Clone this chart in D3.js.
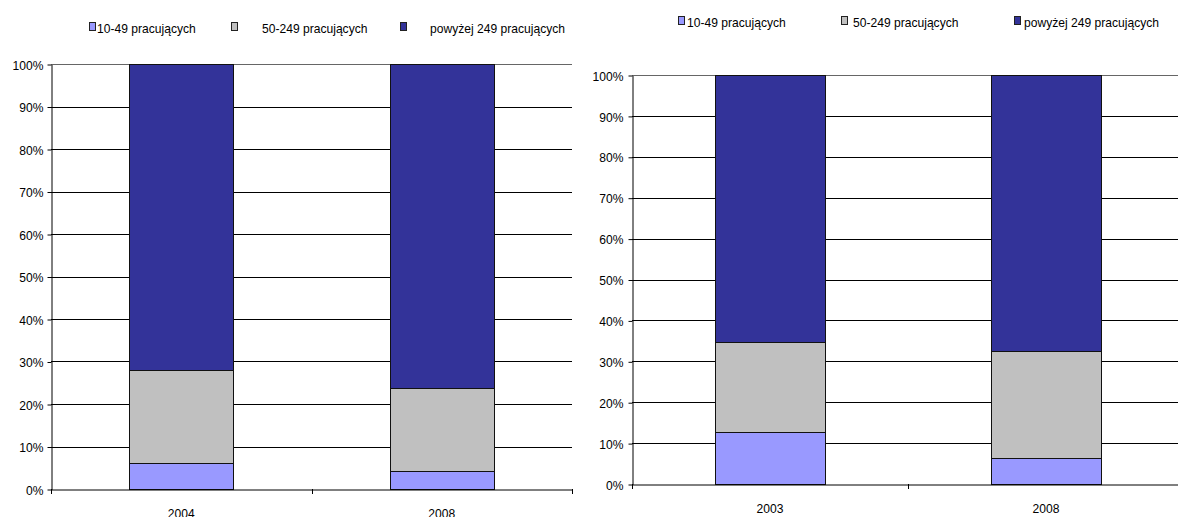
<!DOCTYPE html>
<html><head><meta charset="utf-8">
<script src="https://cdn.jsdelivr.net/npm/d3@7"></script>
<style>body{margin:0;background:#fff}svg{display:block}text{font-family:"Liberation Sans",Arial,sans-serif;fill:#000}</style>
</head><body>
<svg id="c" width="1178" height="517"></svg>
<script>
const seriesNames = ["10-49 pracujących", "50-249 pracujących", "powyżej 249 pracujących"];
const seriesColors = ["#9999FF", "#C0C0C0", "#333399"];
const yTicks = [0, 0.1, 0.2, 0.3, 0.4, 0.5, 0.6, 0.7, 0.8, 0.9, 1.0];
const leftYears = ["2004", "2008"];
const leftSmall = [0.061, 0.043];
const leftMedium = [0.219, 0.195];
const leftLarge = [0.720, 0.762];
const rightYears = ["2003", "2008"];
const rightSmall = [0.127, 0.064];
const rightMedium = [0.220, 0.262];
const rightLarge = [0.653, 0.674];

const FS = 13, SX = 0.93;
const svg = d3.select("#c");

function chart(cfg, years, vals) {
  const g = svg.append("g");
  const x = d3.scaleBand().domain(years).range([cfg.x0, cfg.x1]).paddingInner(0).paddingOuter(0);
  const y = d3.scaleLinear().domain([0, 1]).range([cfg.y0, cfg.y1]);
  g.selectAll("line.grid").data(yTicks.slice(1)).join("line")
    .attr("x1", cfg.x0).attr("x2", cfg.x1)
    .attr("y1", d => Math.round(y(d)) + 0.5).attr("y2", d => Math.round(y(d)) + 0.5)
    .attr("stroke", d => d === 1 ? "#666" : "#000").attr("stroke-width", 1);
  const rows = years.map((yr, i) => ({year: yr, s0: vals[0][i], s1: vals[1][i], s2: vals[2][i]}));
  const stack = d3.stack().keys(["s0", "s1", "s2"])(rows);
  const bw = x.bandwidth() * 0.4;
  stack.forEach((layer, li) => {
    g.selectAll(null).data(layer).join("rect")
      .attr("x", d => Math.round(x(d.data.year) + x.bandwidth() / 2 - bw / 2) + 0.5)
      .attr("width", Math.round(bw))
      .attr("y", d => Math.round(y(d[1])) + 0.5)
      .attr("height", d => Math.round(y(d[0])) - Math.round(y(d[1])))
      .attr("fill", seriesColors[li])
      .attr("stroke", "#111").attr("stroke-width", 1);
  });
  const ya = d3.axisLeft(y).tickValues(yTicks).tickFormat(d3.format(".0%")).tickSize(4).tickSizeOuter(0);
  const yg = g.append("g").attr("transform", `translate(${cfg.x0 + 0.5},0.5)`).call(ya);
  yg.select(".domain").attr("stroke", "#000");
  yg.selectAll(".tick line").attr("stroke", "#000");
  yg.selectAll("text").attr("font-size", FS).attr("x", cfg.yLabelX / SX).attr("dy", "0.36em")
    .attr("transform", `scale(${SX},1)`)
    .style("font-family", '"Liberation Sans", Arial, sans-serif');
  const xa = d3.axisBottom(x).tickSize(0).tickSizeOuter(0);
  const xg = g.append("g").attr("transform", `translate(0,${cfg.y0 + 0.5})`).call(xa);
  xg.select(".domain").attr("stroke", "#000");
  xg.selectAll("text").attr("font-size", FS).attr("y", cfg.xLabelDy)
    .attr("transform", `scale(${SX},1)`)
    .style("font-family", '"Liberation Sans", Arial, sans-serif');
  const bounds = years.map(d => x(d)).concat([cfg.x1]);
  g.selectAll(null).data(bounds).join("line")
    .attr("x1", d => Math.round(d) + 0.5).attr("x2", d => Math.round(d) + 0.5)
    .attr("y1", cfg.y0).attr("y2", cfg.y0 + 5).attr("stroke", "#000");
  seriesNames.forEach((n, i) => {
    const lx = cfg.legend[i];
    g.append("rect").attr("x", lx[0] + 0.5).attr("y", cfg.legendY - 5.5).attr("width", 6).attr("height", 8)
      .attr("fill", seriesColors[i]).attr("stroke", "#222");
    g.append("text").attr("transform", `translate(${lx[1]},${cfg.legendY}) scale(${SX},1)`)
      .attr("dy", "0.36em").attr("font-size", FS).text(n);
  });
}

chart({x0: 51, x1: 572, y0: 489, y1: 64, xLabelDy: 19, yLabelX: -8, legendY: 28,
       legend: [[89, 97], [231, 262], [400, 430]]},
      leftYears, [leftSmall, leftMedium, leftLarge]);
chart({x0: 632, x1: 1184, y0: 484, y1: 75, xLabelDy: 19, yLabelX: -9, legendY: 22,
       legend: [[678, 687], [841, 853], [1014, 1024]]},
      rightYears, [rightSmall, rightMedium, rightLarge]);
</script>
</body></html>
